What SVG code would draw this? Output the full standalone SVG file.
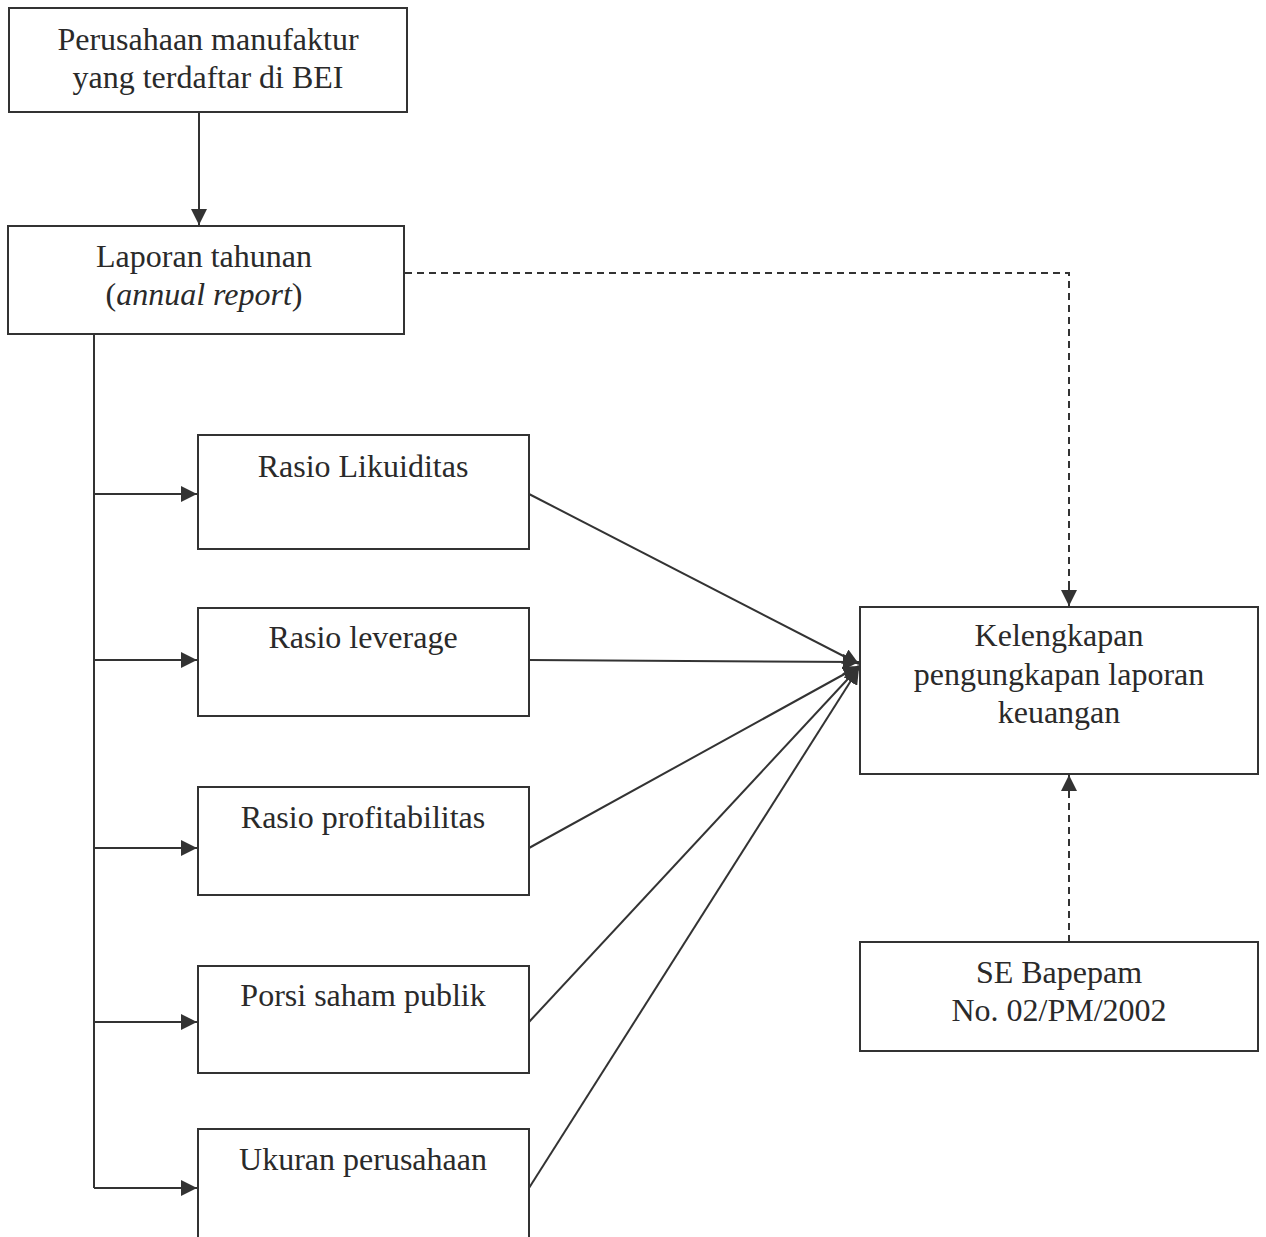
<svg xmlns="http://www.w3.org/2000/svg" width="1266" height="1237" viewBox="0 0 1266 1237">
<style>
.box{fill:#fff;stroke:#333;stroke-width:2}
.t{font-family:"Liberation Serif","Times New Roman",serif;font-size:32px;fill:#2a2a2a;text-anchor:middle}
.ln{fill:none;stroke:#333;stroke-width:2}
.dash{fill:none;stroke:#333;stroke-width:2;stroke-dasharray:7,5}
</style>
<defs>
<marker id="ah" viewBox="0 0 10 10" refX="10" refY="5" markerWidth="16" markerHeight="16" markerUnits="userSpaceOnUse" orient="auto">
<path d="M0,0 L10,5 L0,10 z" fill="#333"/>
</marker>
</defs>
<rect width="1266" height="1237" fill="#fff"/>
<g id="connectors">
<line class="ln" x1="199" y1="112" x2="199" y2="225" marker-end="url(#ah)"/>
<line class="ln" x1="94" y1="334" x2="94" y2="1188"/>
<line class="ln" x1="94" y1="494" x2="197" y2="494" marker-end="url(#ah)"/>
<line class="ln" x1="94" y1="660" x2="197" y2="660" marker-end="url(#ah)"/>
<line class="ln" x1="94" y1="848" x2="197" y2="848" marker-end="url(#ah)"/>
<line class="ln" x1="94" y1="1022" x2="197" y2="1022" marker-end="url(#ah)"/>
<line class="ln" x1="94" y1="1188" x2="197" y2="1188" marker-end="url(#ah)"/>
<polyline class="dash" points="405,273 1069,273 1069,590"/>
<line class="ln" x1="1069" y1="588" x2="1069" y2="606" marker-end="url(#ah)"/>
<line class="dash" x1="1069" y1="942" x2="1069" y2="792"/>
<line class="ln" x1="1069" y1="794" x2="1069" y2="775" marker-end="url(#ah)"/>
<line class="ln" x1="529" y1="494" x2="859" y2="664" marker-end="url(#ah)"/>
<line class="ln" x1="529" y1="660" x2="859" y2="662" marker-end="url(#ah)"/>
<line class="ln" x1="529" y1="848" x2="859" y2="666" marker-end="url(#ah)"/>
<line class="ln" x1="529" y1="1022" x2="859" y2="667" marker-end="url(#ah)"/>
<line class="ln" x1="529" y1="1188" x2="859" y2="668" marker-end="url(#ah)"/>
</g>
<g id="n-perusahaan">
<rect class="box" x="9" y="8" width="398" height="104"/>
<text class="t" x="208" y="50">Perusahaan manufaktur</text>
<text class="t" x="208" y="88">yang terdaftar di BEI</text>
</g>
<g id="n-laporan">
<rect class="box" x="8" y="226" width="396" height="108"/>
<text class="t" x="204" y="267">Laporan tahunan</text>
<text class="t" x="204" y="305">(<tspan font-style="italic">annual report</tspan>)</text>
</g>
<g id="n-likuiditas">
<rect class="box" x="198" y="435" width="331" height="114"/>
<text class="t" x="363" y="477">Rasio Likuiditas</text>
</g>
<g id="n-leverage">
<rect class="box" x="198" y="608" width="331" height="108"/>
<text class="t" x="363" y="648">Rasio leverage</text>
</g>
<g id="n-profitabilitas">
<rect class="box" x="198" y="787" width="331" height="108"/>
<text class="t" x="363" y="828">Rasio profitabilitas</text>
</g>
<g id="n-porsi">
<rect class="box" x="198" y="966" width="331" height="107"/>
<text class="t" x="363" y="1006">Porsi saham publik</text>
</g>
<g id="n-ukuran">
<rect class="box" x="198" y="1129" width="331" height="110"/>
<text class="t" x="363" y="1170">Ukuran perusahaan</text>
</g>
<g id="n-kelengkapan">
<rect class="box" x="860" y="607" width="398" height="167"/>
<text class="t" x="1059" y="646">Kelengkapan</text>
<text class="t" x="1059" y="685">pengungkapan laporan</text>
<text class="t" x="1059" y="723">keuangan</text>
</g>
<g id="n-bapepam">
<rect class="box" x="860" y="942" width="398" height="109"/>
<text class="t" x="1059" y="983">SE Bapepam</text>
<text class="t" x="1059" y="1021">No. 02/PM/2002</text>
</g>
</svg>
